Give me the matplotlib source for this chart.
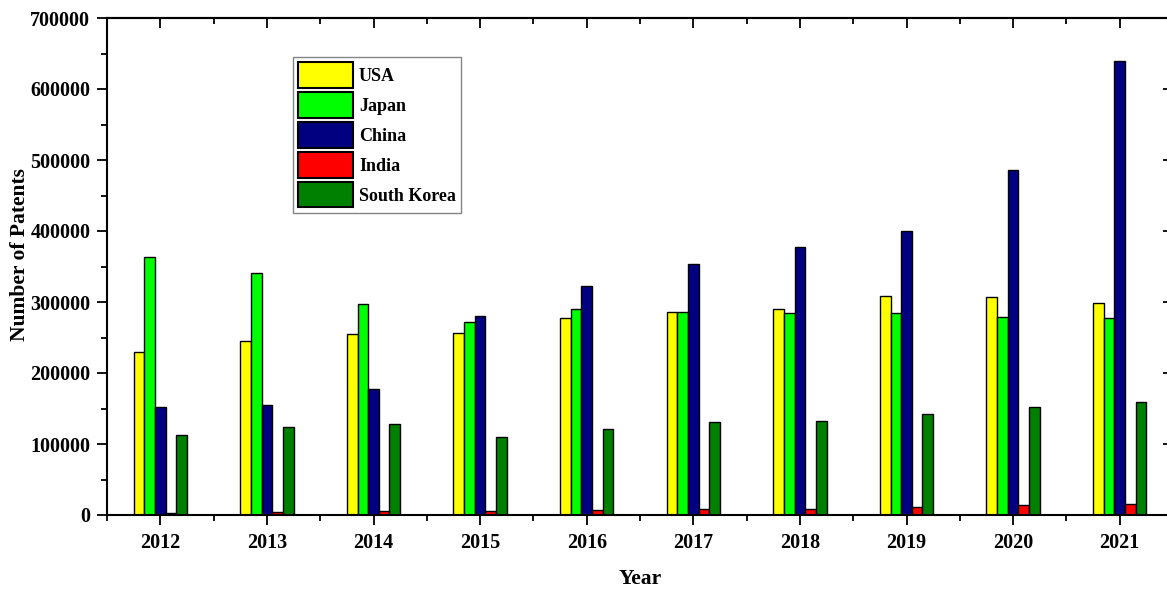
import matplotlib
matplotlib.use("Agg")
import matplotlib.pyplot as plt
import numpy as np
from matplotlib.ticker import MultipleLocator, FixedLocator, FuncFormatter

years = [2012, 2013, 2014, 2015, 2016, 2017, 2018, 2019, 2020, 2021]
usa = [230000, 245000, 254500, 257000, 277000, 286500, 289500, 309000, 306500, 299000]
japan = [364000, 340500, 297000, 271500, 289500, 286500, 284000, 284000, 279000, 278000]
china = [152500, 155000, 177000, 280000, 323000, 353000, 378000, 400500, 485500, 639500]
india = [3500, 4000, 5000, 6000, 7000, 8000, 9000, 11500, 13500, 15500]
korea = [112500, 124500, 128000, 109500, 121000, 131000, 132500, 142000, 151500, 159000]

series = [("USA", usa, "#FFFF00"), ("Japan", japan, "#00FF00"), ("China", china, "#000080"),
          ("India", india, "#FF0000"), ("South Korea", korea, "#008000")]

plt.rcParams['font.family'] = ['Liberation Serif', 'DejaVu Serif']
plt.rcParams['font.weight'] = 'bold'

fig = plt.figure(figsize=(11.67, 5.92), dpi=100)
ax = fig.add_axes([107/1167, 1-515/592, (1173-107)/1167, (515-18)/592])

x = np.arange(len(years))
w = 0.1
for i, (name, vals, col) in enumerate(series):
    ax.bar(x + (i - 2) * w, vals, width=w, color=col, edgecolor='black', linewidth=1.0, label=name)

ax.set_xlim(-0.5, len(years) - 0.5)
ax.set_ylim(0, 700000)
ax.set_xticks(x)
ax.set_xticklabels([str(y) for y in years], fontsize=14.5, fontweight='bold')
ax.xaxis.set_minor_locator(FixedLocator(np.arange(-0.5, len(years), 1.0)))
ax.yaxis.set_major_locator(MultipleLocator(100000))
ax.yaxis.set_minor_locator(MultipleLocator(50000))
ax.yaxis.set_major_formatter(FuncFormatter(lambda v, p: f"{int(v)}"))
for lab in ax.get_yticklabels():
    lab.set_fontsize(14.5)
    lab.set_fontweight('bold')

# bottom / left: outward ticks
ax.tick_params(axis='x', which='major', direction='out', length=7, width=1.3, pad=6,
               bottom=True, top=False)
ax.tick_params(axis='x', which='minor', direction='out', length=4, width=1.3,
               bottom=True, top=False)
ax.tick_params(axis='y', which='major', direction='out', length=7, width=1.3, pad=5,
               left=True, right=False)
ax.tick_params(axis='y', which='minor', direction='out', length=4, width=1.3,
               left=True, right=False)

# top / right: inward ticks via secondary axes
top = ax.secondary_xaxis('top')
top.set_xticks(x)
top.set_xticklabels([])
top.xaxis.set_minor_locator(FixedLocator(np.arange(-0.5, len(years), 1.0)))
top.tick_params(which='major', direction='in', length=7, width=1.3)
top.tick_params(which='minor', direction='in', length=4, width=1.3)
right = ax.secondary_yaxis('right')
right.yaxis.set_major_locator(MultipleLocator(100000))
right.yaxis.set_minor_locator(MultipleLocator(50000))
right.set_yticklabels([])
right.tick_params(which='major', direction='in', length=7, width=1.3)
right.tick_params(which='minor', direction='in', length=4, width=1.3)
for s in (top, right):
    for sp in s.spines.values():
        sp.set_linewidth(1.5)

for sp in ax.spines.values():
    sp.set_linewidth(1.5)

ax.set_xlabel("Year", fontsize=15.5, fontweight='bold')
ax.xaxis.set_label_coords(0.5, (515 - 569) / 497)
ax.set_ylabel("Number of Patents", fontsize=15.5, fontweight='bold')
ax.yaxis.set_label_coords((30 - 107) / 1066, (515 - 255) / 497)

leg = ax.legend(loc='upper left', bbox_to_anchor=((293 - 107) / 1066, (515 - 57) / 497),
                frameon=True, fancybox=False, edgecolor='#666666', borderaxespad=0,
                handlelength=3.05, handleheight=1.8, handletextpad=0.3, labelspacing=0.24,
                borderpad=0.3, prop={'weight': 'bold', 'size': 13})
leg.get_frame().set_linewidth(1.0)
for p in leg.get_patches():
    p.set_linewidth(1.5)

fig.savefig("out.png", dpi=100)
